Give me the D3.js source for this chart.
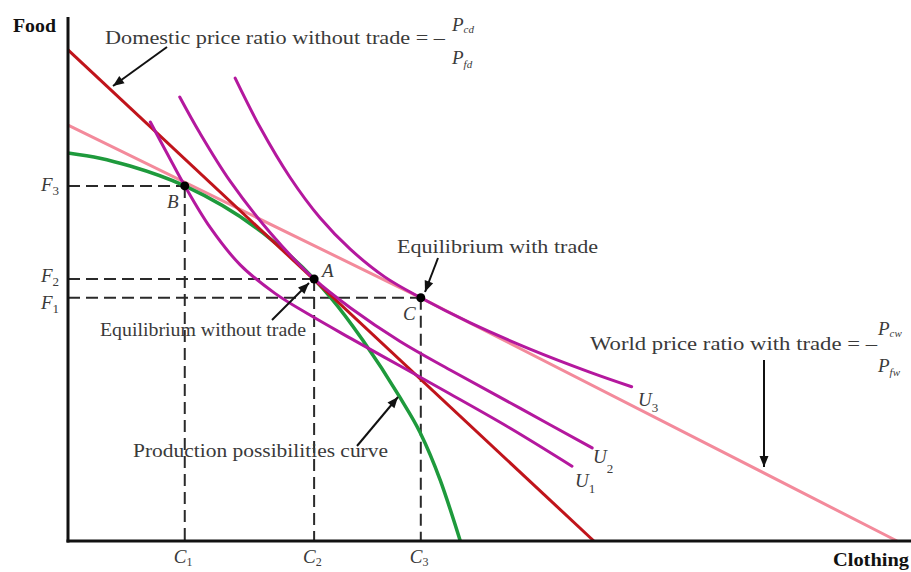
<!DOCTYPE html>
<html><head><meta charset="utf-8">
<script src="https://cdn.jsdelivr.net/npm/d3@7"></script>
<style>body{margin:0;background:#fff;} svg{display:block;}</style>
</head><body><svg id="chart" width="911" height="572"></svg>
<script>
// ---- data (abstract units: clothing 0-100, food 0-100) ----
const domesticPriceLine = [[0, 93.9], [62.6, 0]];
const worldPriceLine = [[0, 79.5], [42.0, 46.5], [98.7, 0]];
const ppfCurve = [[0, 74.2], [3.8, 73.2], [7.4, 71.7], [13.9, 67.9], [23.2, 58.9], [29.3, 50.1],
  [31.2, 46.7], [35.1, 38.4], [39.5, 27.5], [41.9, 20.8], [44.3, 11.7], [46.7, 0]];
const indiffU1 = [[9.8, 80.1], [11.9, 73.8], [13.9, 67.9], [16.9, 60.0], [20.5, 52.8], [24.6, 47.4],
  [28.8, 43.2], [33.6, 38.8], [39.5, 33.5], [45.5, 28.1], [52.6, 21.6], [60.0, 14.3]];
const indiffU2 = [[13.3, 84.9], [15.7, 78.0], [19.3, 68.8], [24.1, 58.9], [29.3, 50.1], [33.6, 44.6],
  [39.5, 38.2], [45.5, 32.7], [53.8, 25.4], [62.4, 17.8]];
const indiffU3 = [[19.9, 88.5], [22.9, 79.0], [26.4, 69.6], [30.0, 61.8], [33.6, 55.8], [37.7, 50.5],
  [42.0, 46.5], [47.9, 41.7], [55.0, 36.7], [62.1, 32.3], [67.1, 29.5]];
const pointNames = ["B", "A", "C"];
const pointClothing = [13.9, 29.3, 42.0];
const pointFood = [67.9, 50.1, 46.5];
const foodTickLabels = ["F", "F", "F"];
const foodTickSubs = ["3", "2", "1"];
const clothingTickLabels = ["C", "C", "C"];
const clothingTickSubs = ["1", "2", "3"];
const curveNames = ["U1", "U2", "U3"];

// ---- layout ----
const svg = d3.select("#chart");
const x = d3.scaleLinear().domain([0, 100]).range([68, 908]);
const y = d3.scaleLinear().domain([0, 100]).range([541, 18]);
const serif = "'Liberation Serif', 'Times New Roman', serif";
const textColor = "#3a3a3a";
const colors = { red: "#c0141b", pink: "#f38a9b", green: "#1e9a3c", magenta: "#b4189e", dash: "#2a2a2a" };

const lineGen = d3.line().x(d => x(d[0])).y(d => y(d[1]));
const ppfGen = d3.line().x(d => x(d[0])).y(d => y(d[1])).curve(d3.curveMonotoneX);
const uGen = d3.line().x(d => x(d[0])).y(d => y(d[1])).curve(d3.curveCatmullRom.alpha(0.5));

// dashed guide lines
const guides = svg.append("g");
pointNames.forEach((n, i) => {
  guides.append("line").attr("x1", x(0)).attr("x2", x(pointClothing[i]))
    .attr("y1", y(pointFood[i])).attr("y2", y(pointFood[i]))
    .attr("stroke", colors.dash).attr("stroke-width", 2).attr("stroke-dasharray", "12,6");
  guides.append("line").attr("x1", x(pointClothing[i])).attr("x2", x(pointClothing[i]))
    .attr("y1", y(pointFood[i])).attr("y2", y(0))
    .attr("stroke", colors.dash).attr("stroke-width", 2).attr("stroke-dasharray", "12,6");
});

// curves
svg.append("path").datum(worldPriceLine).attr("d", lineGen).attr("fill", "none")
  .attr("stroke", colors.pink).attr("stroke-width", 3);
svg.append("path").datum(ppfCurve).attr("d", ppfGen).attr("fill", "none")
  .attr("stroke", colors.green).attr("stroke-width", 3.5);
svg.append("path").datum(domesticPriceLine).attr("d", lineGen).attr("fill", "none")
  .attr("stroke", colors.red).attr("stroke-width", 3);
[indiffU1, indiffU2, indiffU3].forEach(c => {
  svg.append("path").datum(c).attr("d", uGen).attr("fill", "none")
    .attr("stroke", colors.magenta).attr("stroke-width", 3).attr("stroke-linecap", "round");
});

// axes (no ticks)
svg.append("g").attr("transform", `translate(0,${y(0)})`)
  .call(d3.axisBottom(x).tickValues([]).tickSizeOuter(0))
  .call(g => g.select(".domain").attr("d", "M66.5,0H911").attr("stroke", "#111").attr("stroke-width", 3));
svg.append("g").attr("transform", `translate(${x(0)},0)`)
  .call(d3.axisLeft(y).tickValues([]).tickSizeOuter(0))
  .call(g => g.select(".domain").attr("d", `M0,${y(0) + 1.5}V17`).attr("stroke", "#111").attr("stroke-width", 3));

// points
pointNames.forEach((n, i) => {
  svg.append("circle").attr("cx", x(pointClothing[i])).attr("cy", y(pointFood[i])).attr("r", 4.5).attr("fill", "#000");
});

// helpers
function subText(px, py, main, sub, size, subSize, subDy, subItalic, anchorItalic = true) {
  const t = svg.append("text").attr("x", px).attr("y", py).attr("font-family", serif)
    .attr("font-size", size).attr("fill", textColor);
  t.append("tspan").attr("font-style", anchorItalic ? "italic" : "normal").text(main);
  t.append("tspan").attr("font-size", subSize).attr("dy", subDy)
    .attr("font-style", subItalic ? "italic" : "normal").text(sub);
  return t;
}
function plainText(px, py, str, width, size = 19, weight = "normal", fill = textColor) {
  const t = svg.append("text").attr("x", px).attr("y", py).attr("font-family", serif)
    .attr("font-size", size).attr("font-weight", weight).attr("fill", fill).text(str);
  if (width) t.attr("textLength", width).attr("lengthAdjust", "spacingAndGlyphs");
  return t;
}
function arrow(x1, y1, x2, y2) {
  svg.append("line").attr("x1", x1).attr("y1", y1).attr("x2", x2).attr("y2", y2)
    .attr("stroke", "#111").attr("stroke-width", 2);
  const a = Math.atan2(y2 - y1, x2 - x1), L = 11, W = 4.5;
  const bx = x2 - L * Math.cos(a), by = y2 - L * Math.sin(a);
  const p = [[x2, y2], [bx + W * Math.sin(a), by - W * Math.cos(a)], [bx - W * Math.sin(a), by + W * Math.cos(a)]];
  svg.append("path").attr("d", "M" + p.join("L") + "Z").attr("fill", "#111");
}

// axis titles
plainText(13, 32, "Food", 43, 19, "bold", "#111");
plainText(833, 566, "Clothing", 76, 19, "bold", "#111");

// tick labels
const foodOffsets = [5, 3, 11];
pointNames.forEach((n, i) => {
  subText(41, y(pointFood[i]) + foodOffsets[i], foodTickLabels[i], foodTickSubs[i], 19, 13, 4, false);
  subText(x(pointClothing[i]) - 11, 563, clothingTickLabels[i], clothingTickSubs[i], 19, 12, 3, false);
});

// point labels
plainText(167, 208, "B").attr("font-style", "italic");
plainText(322, 277, "A").attr("font-style", "italic");
plainText(403, 320, "C").attr("font-style", "italic");

// curve labels
const uPos = [[575, 487, 6], [593, 463, 10], [638, 406, 6]];
curveNames.forEach((c, i) => {
  subText(uPos[i][0], uPos[i][1], "U", c.slice(1), 19, 13, uPos[i][2], false);
});

// annotations
plainText(105, 44, "Domestic price ratio without trade = –", 340);
subText(452, 31, "P", "cd", 19, 11, 2, true);
subText(452, 64, "P", "fd", 19, 11, 4, true);
arrow(167, 47, 113, 86);

plainText(590, 350, "World price ratio with trade = –", 287);
subText(878, 335, "P", "cw", 19, 11, 2, true);
subText(878, 372, "P", "fw", 19, 11, 4, true);
arrow(764, 360, 764, 467);

plainText(397, 253, "Equilibrium with trade", 201);
arrow(438, 258, 425, 292);

plainText(100, 336, "Equilibrium without trade", 206);
arrow(272, 320, 309, 283);

plainText(133, 457, "Production possibilities curve", 255);
arrow(357, 446, 398, 397);
</script></body></html>
